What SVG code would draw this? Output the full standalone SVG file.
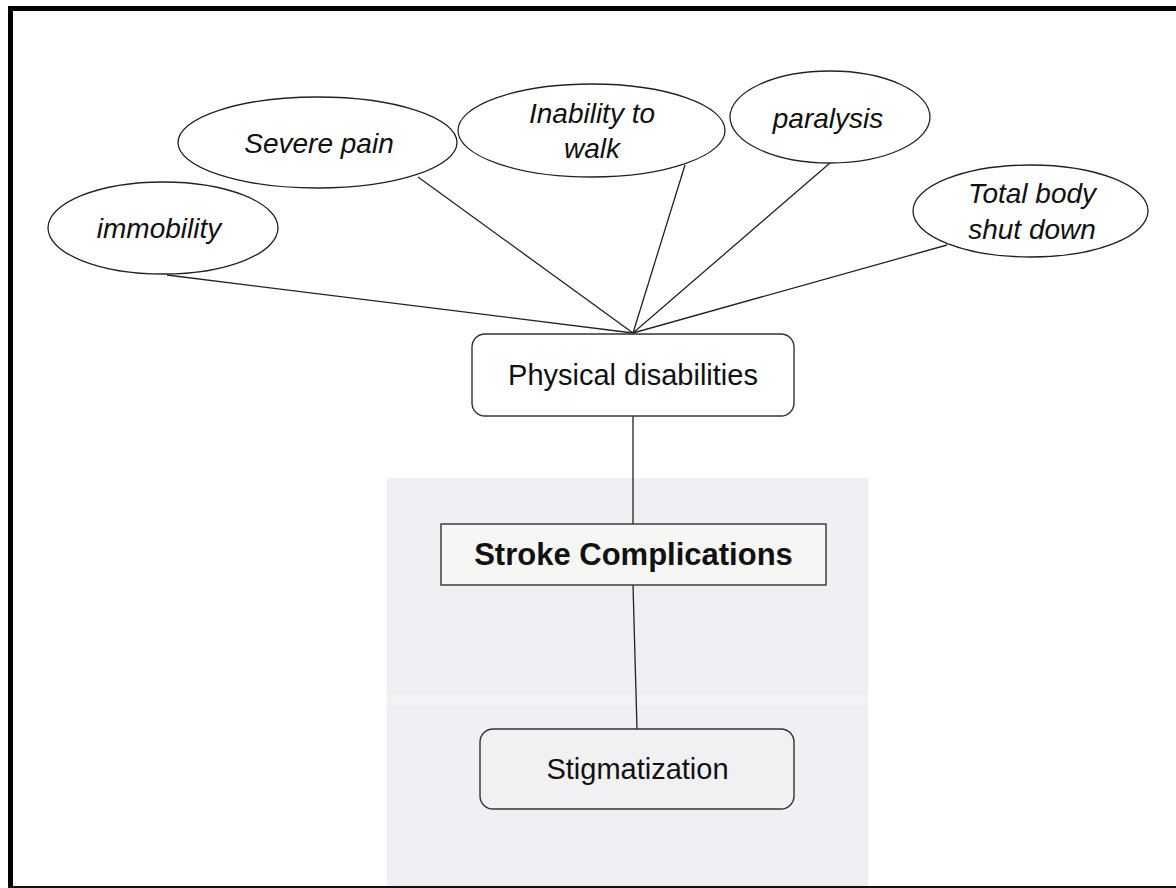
<svg xmlns="http://www.w3.org/2000/svg" width="1176" height="888" viewBox="0 0 1176 888">
<style>
.ell{fill:#fff;stroke:#222;stroke-width:1.3}
.box{stroke:#333;stroke-width:1.4}
.lbl{font-family:"Liberation Sans",Arial,sans-serif;fill:#111;text-anchor:middle}
.it{font-style:italic;font-size:28px}
.con{stroke:#222;stroke-width:1.3;fill:none}
</style>
<rect x="0" y="0" width="1176" height="888" fill="#fff"/>
<g id="watermark">
<rect x="387" y="478" width="481" height="410" fill="#f0f0f4"/>
<rect x="387" y="695" width="481" height="10" fill="#f3f3f4"/>
</g>
<g id="frame">
<rect x="8" y="6" width="5" height="882" fill="#000"/>
<rect x="8" y="6" width="1168" height="5" fill="#000"/>
<rect x="8" y="886" width="1168" height="2" fill="#111"/>
</g>
<g id="connectors">
<line class="con" x1="167" y1="275" x2="633" y2="333"/>
<line class="con" x1="418" y1="177" x2="633" y2="333"/>
<line class="con" x1="685" y1="165" x2="633" y2="333"/>
<line class="con" x1="830" y1="163" x2="633" y2="333"/>
<line class="con" x1="947" y1="245" x2="633" y2="333"/>
<line class="con" x1="633" y1="416" x2="633" y2="524"/>
<line class="con" x1="633" y1="585" x2="637" y2="729"/>
</g>
<g id="immobility">
<ellipse class="ell" cx="163" cy="228" rx="115" ry="46"/>
<text class="lbl it" x="159" y="238">immobility</text>
</g>
<g id="severe-pain">
<ellipse class="ell" cx="317.5" cy="142.5" rx="139.5" ry="45.5"/>
<text class="lbl it" x="319" y="153">Severe pain</text>
</g>
<g id="inability">
<ellipse class="ell" cx="591.5" cy="130.5" rx="133.5" ry="46.5"/>
<text class="lbl it" x="592" y="123">Inability to</text>
<text class="lbl it" x="592" y="158">walk</text>
</g>
<g id="paralysis">
<ellipse class="ell" cx="830" cy="117" rx="100" ry="46"/>
<text class="lbl it" x="828" y="128">paralysis</text>
</g>
<g id="total-body">
<ellipse class="ell" cx="1030.5" cy="211" rx="117.5" ry="46"/>
<text class="lbl it" x="1032" y="203">Total body</text>
<text class="lbl it" x="1032" y="239">shut down</text>
</g>
<g id="physical">
<rect class="box" x="472" y="334" width="322" height="82" rx="13" fill="#fff"/>
<text class="lbl" x="633" y="385" font-size="29">Physical disabilities</text>
</g>
<g id="stroke">
<rect class="box" x="441" y="524" width="385" height="61" fill="#f6f6f4"/>
<text class="lbl" x="633.5" y="565" font-size="31" font-weight="bold">Stroke Complications</text>
</g>
<g id="stigma">
<rect class="box" x="480" y="729" width="314" height="80" rx="13" fill="#f1f1f4"/>
<text class="lbl" x="637.5" y="779" font-size="29">Stigmatization</text>
</g>
</svg>
